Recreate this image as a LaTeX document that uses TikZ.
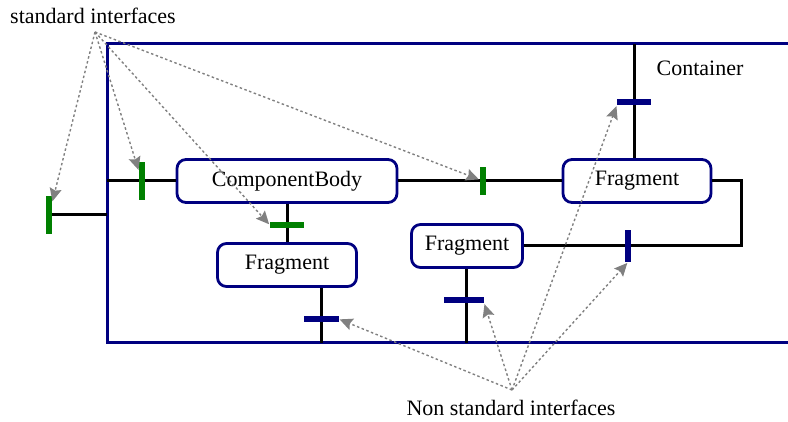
\documentclass[tikz,border=0pt]{standalone}
\usepackage{fontspec}
\setmainfont{Liberation Serif}
\usetikzlibrary{arrows.meta,positioning}
\definecolor{navy}{RGB}{0,0,128}
\definecolor{stdgreen}{RGB}{0,128,0}
\begin{document}
\begin{tikzpicture}[x=1pt,y=-1pt, every node/.style={font=\fontsize{22}{26}\selectfont},
    part/.style={draw=navy, line width=2.8pt, rounded corners=9pt, fill=white, minimum height=43pt, inner sep=0pt},
    stdif/.style={fill=stdgreen, inner sep=0pt},
    nsif/.style={fill=navy, inner sep=0pt},
    wire/.style={line width=3pt},
    hint/.style={gray, line width=1.4pt, dash pattern=on 2.5pt off 2.5pt, shorten >=1pt, -{Stealth[length=13pt,width=12pt,inset=2pt]}}]
    \useasboundingbox (0,0) rectangle (788,422);
    % container frame, open on the right
    \draw[navy, line width=3pt] (788,44) -| (107,343) -- (788,343);
    \node[inner sep=0pt] (cont) at (700,68) {Container};
    \node[inner sep=0pt] (std) at (93,16) {standard interfaces};
    \node[inner sep=0pt] (nonstd) at (511,408) {Non standard interfaces};
    \coordinate (sa) at (95,32);
    \coordinate (na) at (512,390);
    % parts
    \node[part, minimum width=220pt] (body) at (287,181) {ComponentBody};
    \node[part, minimum width=148pt] (frgA) at (637,181) {Fragment};
    \node[part, minimum width=111pt] (frgB) at (467,246) {Fragment};
    \node[part, minimum width=139pt] (frgC) at (287,265) {Fragment};
    % interfaces
    \node[stdif, minimum width=6pt, minimum height=38pt] (s1) at (49,215) {};
    \node[stdif, minimum width=6pt, minimum height=38pt] (s2) at (142,181) {};
    \node[stdif, minimum width=6pt, minimum height=28pt] (s3) at (483,181) {};
    \node[stdif, minimum width=34pt, minimum height=6pt] (s4) at (287,225) {};
    \node[nsif, minimum width=34pt, minimum height=6pt] (n1) at (634,102) {};
    \node[nsif, minimum width=6pt, minimum height=32pt] (n2) at (628,246) {};
    \node[nsif, minimum width=40pt, minimum height=6pt] (n3) at (464,300) {};
    \node[nsif, minimum width=35pt, minimum height=6pt] (n4) at (321,319) {};
    % points on the container and bends
    \coordinate (c1) at (107,215);
    \coordinate (c2) at (107,181);
    \coordinate (c3) at (634,44);
    \coordinate (c4) at (466,343);
    \coordinate (c5) at (321,343);
    \coordinate (c6) at (741,181);
    \coordinate (c7) at (741,246);
    % wiring
    \draw[wire] (s1) -- (c1);
    \draw[wire] (c2) -- (s2) -- (body);
    \draw[wire] (body) -- (s3) -- (frgA);
    \draw[wire] (c3) -- (n1) -- (n1 |- frgA.north);
    \draw[wire] (frgA) -- (c6) -- (c7) -- (n2) -- (frgB);
    \draw[wire] (body) -- (s4) -- (frgC);
    \draw[wire] (frgC.south -| n4) -- (n4) -- (c5);
    \draw[wire] (frgB.south -| c4) -- (n3.north -| c4) (n3.south -| c4) -- (c4);
    % pointers
    \draw[hint] (sa) -- (s1);
    \draw[hint] (sa) -- (s2);
    \draw[hint] (sa) -- (s4.west);
    \draw[hint] (sa) -- (s3);
    \draw[hint] (na) -- (n4.east);
    \draw[hint] (na) -- (n3.south east);
    \draw[hint] (na) -- (n1.south west);
    \draw[hint] (na) -- (n2.south);
\end{tikzpicture}
\end{document}
